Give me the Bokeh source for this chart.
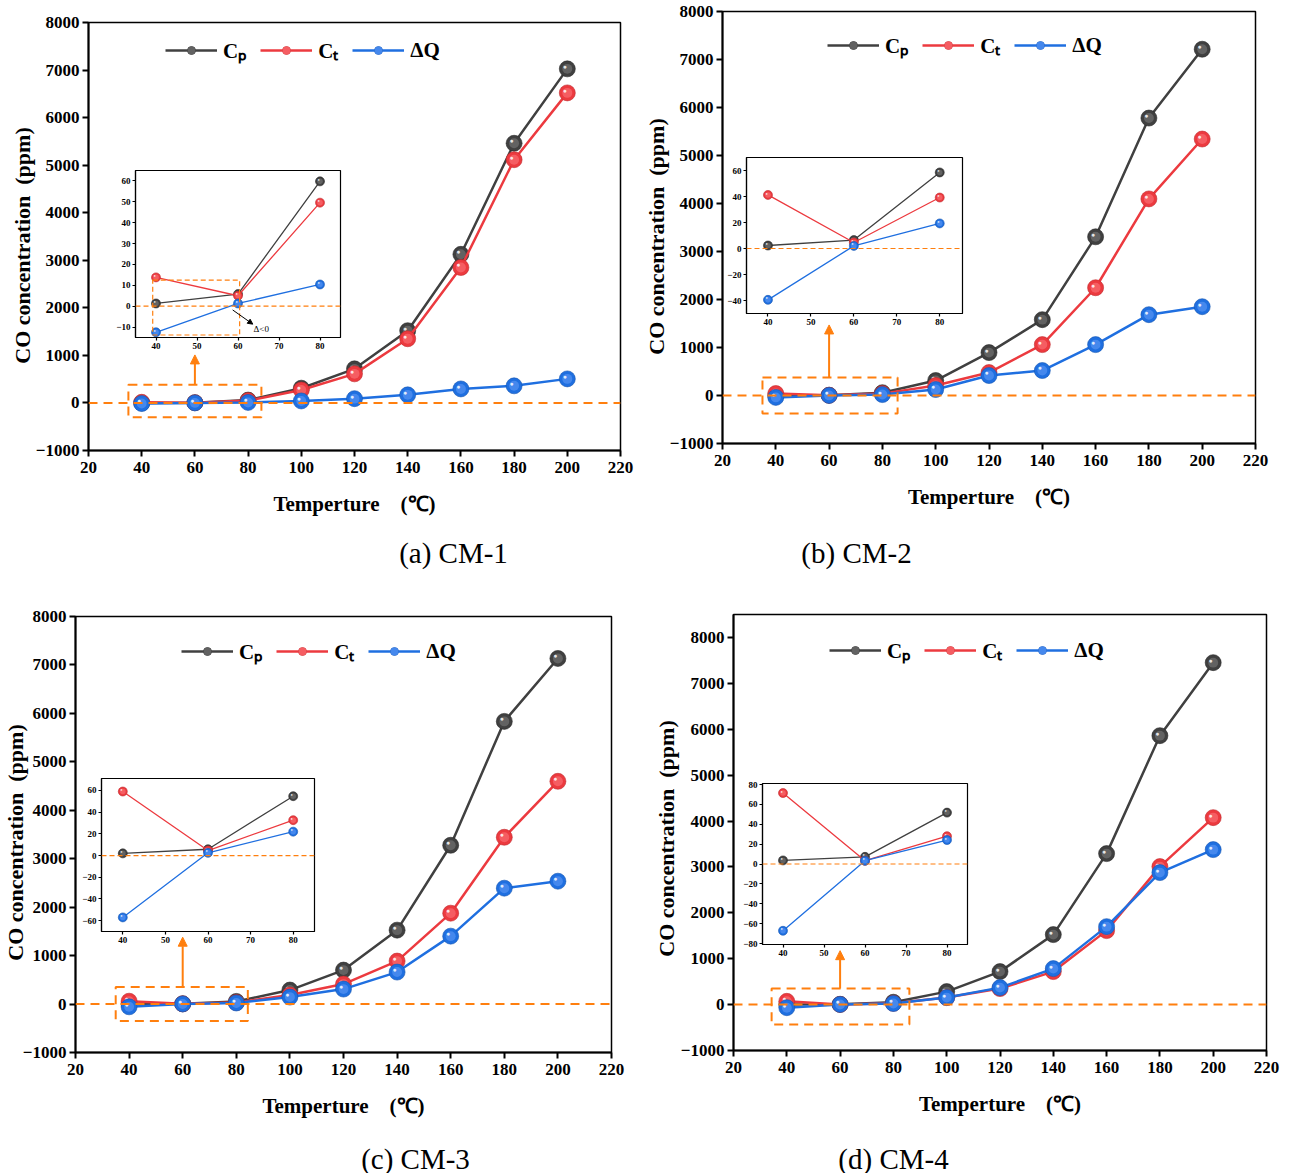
import math
from bokeh.plotting import figure
from bokeh.models import (Range1d, FixedTicker, Span, BoxAnnotation, Arrow, NormalHead,
                          Legend, LegendItem, GridBox, Label, Column, ColumnDataSource)
from bokeh.embed import file_html
from bokeh.resources import INLINE

# ---------------- data ----------------
temps = [40, 60, 80, 100, 120, 140, 160, 180, 200]
x_ticks = [20, 40, 60, 80, 100, 120, 140, 160, 180, 200, 220]
y_ticks = [-1000, 0, 1000, 2000, 3000, 4000, 5000, 6000, 7000, 8000]
inset_x_ticks = [40, 50, 60, 70, 80]

cm1_cp = [1.3, 5.8, 59.8, 310, 717, 1519, 3125, 5460, 7025]
cm1_ct = [13.8, 5.0, 49.6, 272, 612, 1350, 2848, 5115, 6520]
cm1_dq = [-12.5, 1.3, 10.4, 42, 90, 170, 295, 360, 506]

cm2_cp = [2.3, 6.5, 58.5, 312, 894, 1580, 3306, 5780, 7214]
cm2_ct = [41.2, 4.6, 39.2, 208, 478, 1060, 2245, 4096, 5343]
cm2_dq = [-39.5, 2.0, 19.3, 125, 416, 520, 1060, 1684, 1850]

cm3_cp = [2.0, 5.8, 54.7, 289, 701, 1526, 3278, 5835, 7134]
cm3_ct = [59.0, 4.6, 32.6, 186, 412, 887, 1876, 3443, 4598]
cm3_dq = [-57.0, 2.5, 22.0, 144, 309, 660, 1402, 2392, 2536]

cm4_cp = [3.6, 7.2, 51.7, 283, 719, 1525, 3290, 5860, 7451]
cm4_ct = [71.4, 3.3, 28.0, 153, 349, 719, 1612, 3007, 4074]
cm4_dq = [-67.2, 3.3, 24.1, 153, 370, 784, 1699, 2876, 3377]

inset1_y_ticks = [-10, 0, 10, 20, 30, 40, 50, 60]
inset2_y_ticks = [-40, -20, 0, 20, 40, 60]
inset3_y_ticks = [-60, -40, -20, 0, 20, 40, 60]
inset4_y_ticks = [-80, -60, -40, -20, 0, 20, 40, 60, 80]

captions = ["(a) CM-1", "(b) CM-2", "(c) CM-3", "(d) CM-4"]
series_labels = ["C\u209a", "C\u209c", "\u0394Q"]
x_title = "Temperture\u00a0\u00a0\u00a0\u00a0(\u2103)"
y_title = "CO concentration\u00a0\u00a0(ppm)"

# ---------------- style ----------------
FONT = "Liberation Serif"
ORANGE = "#ff7f0e"
COLORS = ["#404040", "#ec3a3f", "#1f6fe0"]
MIDS = ["#6a6a6a", "#f7676b", "#4f8ff0"]
EDGES = ["#262626", "#c02a2e", "#1656b0"]


def draw_series(p, xs, ys, i, size, lw):
    rl = p.line(xs, ys, line_color=COLORS[i], line_width=lw)
    r1 = p.scatter(xs, ys, size=size, fill_color=COLORS[i], line_color=EDGES[i], line_width=0.6)
    r2 = p.scatter(xs, ys, size=size * 0.62, fill_color=MIDS[i], line_color=None, fill_alpha=0.8)
    src = ColumnDataSource(dict(x=xs, y=ys, t=["\u25cf"] * len(xs)))
    r3 = p.text(x="x", y="y", text="t", source=src, text_color="white", text_alpha=0.85,
                text_font_size=f"{size * 0.42:.1f}px", text_align="center",
                text_baseline="middle", x_offset=-size * 0.16, y_offset=-size * 0.16)
    return [rl, r1, r2, r3]


def style_axes(p, tick_size, label_size, tick_out, lw):
    for ax in (p.xaxis[0], p.yaxis[0]):
        ax.major_label_text_font = FONT
        ax.major_label_text_font_style = "bold"
        ax.major_label_text_font_size = tick_size
        ax.major_label_text_color = "black"
        ax.axis_label_text_font = FONT
        ax.axis_label_text_font_style = "bold"
        ax.axis_label_text_font_size = label_size
        ax.axis_label_text_color = "black"
        ax.major_tick_out = tick_out
        ax.major_tick_in = 0
        ax.minor_tick_line_color = None
        ax.axis_line_width = lw
        ax.major_tick_line_width = lw
        ax.axis_line_color = "black"
        ax.major_tick_line_color = "black"
    p.xgrid.visible = False
    p.ygrid.visible = False


def main_panel(W, H, l, r, t, b, y_end, cp, ct, dq, leg_xy, box, arrow_top):
    p = figure(width=W, height=H, x_range=Range1d(20, 220), y_range=Range1d(-1000, y_end),
               output_backend="svg", toolbar_location=None,
               min_border_left=l, min_border_right=r, min_border_top=t, min_border_bottom=b,
               outline_line_color="black", outline_line_width=1.5,
               background_fill_color="white", border_fill_color="white")
    p.title.visible = False
    p.xaxis.ticker = FixedTicker(ticks=x_ticks)
    p.yaxis.ticker = FixedTicker(ticks=y_ticks)
    p.xaxis.axis_label = x_title
    style_axes(p, "17px", "21px", 6, 2)
    p.xaxis.major_label_standoff = 5
    p.yaxis.major_label_standoff = 3
    p.xaxis.axis_label_standoff = 16

    p.add_layout(Span(location=0, dimension="width", line_color=ORANGE,
                      line_dash="9 6", line_width=2))

    items = []
    for i, ys in enumerate([cp, ct, dq]):
        rs = draw_series(p, temps, ys, i, 16, 2.5)
        items.append(LegendItem(label=series_labels[i], renderers=rs))

    left, right, bottom, top = box
    p.add_layout(BoxAnnotation(left=left, right=right, bottom=bottom, top=top,
                               fill_alpha=0, line_color=ORANGE, line_alpha=1, line_width=2,
                               line_dash="9 6"))
    p.add_layout(Arrow(x_start=60, y_start=top, x_end=60, y_end=arrow_top,
                       line_color=ORANGE, line_width=2,
                       end=NormalHead(size=9, fill_color=ORANGE, line_color=ORANGE)))

    leg = Legend(items=items, orientation="horizontal", location=leg_xy,
                 glyph_width=52, glyph_height=20, label_standoff=6, spacing=14,
                 padding=0, margin=0, border_line_color=None, background_fill_alpha=0,
                 label_text_font=FONT, label_text_font_style="bold",
                 label_text_font_size="21px", label_text_color="black")
    p.add_layout(leg)
    return p


def inset_panel(W, H, l, r, t, b, x_rng, y_rng, y_tk, cp, ct, dq):
    p = figure(width=W, height=H, x_range=Range1d(*x_rng), y_range=Range1d(*y_rng),
               output_backend="svg", toolbar_location=None,
               min_border_left=l, min_border_right=r, min_border_top=t, min_border_bottom=b,
               outline_line_color="black", outline_line_width=1.2,
               background_fill_color="white", border_fill_alpha=0)
    p.title.visible = False
    p.xaxis.ticker = FixedTicker(ticks=inset_x_ticks)
    p.yaxis.ticker = FixedTicker(ticks=y_tk)
    style_axes(p, "9px", "9px", 3, 1.2)
    p.xaxis.major_label_standoff = 2
    p.yaxis.major_label_standoff = 2
    p.add_layout(Span(location=0, dimension="width", line_color=ORANGE,
                      line_dash="5 3", line_width=1.2))
    for i, ys in enumerate([cp, ct, dq]):
        draw_series(p, temps[:3], ys[:3], i, 9, 1.3)
    return p


def text_panel(W, H, text, fx, fy, size, bold=False, angle=0.0):
    p = figure(width=W, height=H, x_range=Range1d(0, 1), y_range=Range1d(0, 1),
               output_backend="svg", toolbar_location=None,
               min_border_left=0, min_border_right=0, min_border_top=0, min_border_bottom=0,
               outline_line_color=None, background_fill_alpha=0, border_fill_alpha=0)
    p.title.visible = False
    p.axis.visible = False
    p.xgrid.visible = False
    p.ygrid.visible = False
    p.add_layout(Label(x=fx, y=fy, text=text, angle=angle, text_align="center",
                       text_baseline="middle", text_font=FONT,
                       text_font_style="bold" if bold else "normal",
                       text_font_size=size, text_color="black"))
    return p


pa = main_panel(645, 585, 88, 25, 22, 135, 8000, cm1_cp, cm1_ct, cm1_dq,
                (77, 386), (35, 85, -300, 380), 1010)
pb = main_panel(645, 585, 77, 35, 11, 142, 8000, cm2_cp, cm2_ct, cm2_dq,
                (105, 384), (35, 85.7, -374, 374), 1470)
pc = main_panel(645, 588, 75, 34, 31, 121, 8000, cm3_cp, cm3_ct, cm3_dq,
                (106, 387), (35, 84.3, -350, 350), 1380)
pd = main_panel(645, 588, 88, 24, 29, 123, 8500, cm4_cp, cm4_ct, cm4_dq,
                (96, 386), (34.3, 86, -435, 350), 1175)

ia = inset_panel(234, 187, 27, 2, 2, 18, (35, 85), (-15, 65), inset1_y_ticks,
                 cm1_cp, cm1_ct, cm1_dq)
ia.add_layout(BoxAnnotation(left=39.2, right=60.4, bottom=-13.8, top=12.5, fill_alpha=0,
                            line_color=ORANGE, line_alpha=1, line_width=1.2, line_dash="5 3"))
ia.add_layout(Arrow(x_start=58.7, y_start=-1.8, x_end=63.6, y_end=-8.6, line_color="black",
                    line_width=1, end=NormalHead(size=5, fill_color="black", line_color="black")))
ia.add_layout(Label(x=63.8, y=-10.8, text="\u0394<0", text_font=FONT, text_font_size="9px",
                    text_baseline="middle", text_color="black"))

ib = inset_panel(245, 177, 27, 2, 3, 18, (35, 85.3), (-50, 70), inset2_y_ticks,
                 cm2_cp, cm2_ct, cm2_dq)
ic = inset_panel(243, 173, 28, 2, 2, 18, (35, 85), (-70, 71), inset3_y_ticks,
                 cm3_cp, cm3_ct, cm3_dq)
idd = inset_panel(234, 181, 27, 2, 2, 18, (35, 85), (-81, 81), inset4_y_ticks,
                  cm4_cp, cm4_ct, cm4_dq)

ca = text_panel(200, 40, captions[0], 0.5, 0.5, "29px")
cb = text_panel(200, 40, captions[1], 0.5, 0.5, "29px")
cc = text_panel(200, 35, captions[2], 0.5, 1 - 20 / 35, "29px")
cd = text_panel(200, 35, captions[3], 0.5, 1 - 20 / 35, "29px")

ya = text_panel(30, 290, y_title, 0.5, 0.5, "22px", True, math.pi / 2)
yb = text_panel(30, 290, y_title, 0.5, 0.5, "22px", True, math.pi / 2)
yc = text_panel(34, 290, y_title, 15 / 34, 0.5, "22px", True, math.pi / 2)
yd = text_panel(30, 290, y_title, 0.5, 0.5, "22px", True, math.pi / 2)

placed = [
    (pa, 0, 0, 645, 585), (pb, 645, 0, 645, 585),
    (pc, 0, 585, 645, 588), (pd, 645, 585, 645, 588),
    (ia, 108, 168, 234, 187), (ib, 719, 154, 245, 177),
    (ic, 73, 776, 243, 173), (idd, 735, 781, 234, 181),
    (ca, 353, 532, 200, 40), (cb, 756, 532, 200, 40),
    (cc, 315, 1138, 200, 35), (cd, 793, 1138, 200, 35),
    (ya, 7, 100, 30, 290), (yb, 641, 91, 30, 290),
    (yc, 0, 697, 34, 290), (yd, 651, 693, 30, 290),
]
xs = sorted({v for _, x, _, w, _ in placed for v in (x, x + w)})
ys = sorted({v for _, _, y, _, h in placed for v in (y, y + h)})
cols = [f"{b - a}px" for a, b in zip(xs, xs[1:])]
rows = [f"{b - a}px" for a, b in zip(ys, ys[1:])]
children = []
for fig, x, y, w, h in placed:
    r0, c0 = ys.index(y), xs.index(x)
    children.append((Column(children=[fig]), r0, c0, ys.index(y + h) - r0, xs.index(x + w) - c0))

grid = GridBox(children=children, rows=rows, cols=cols, spacing=0)

open("out.html", "w").write(file_html(grid, INLINE))
